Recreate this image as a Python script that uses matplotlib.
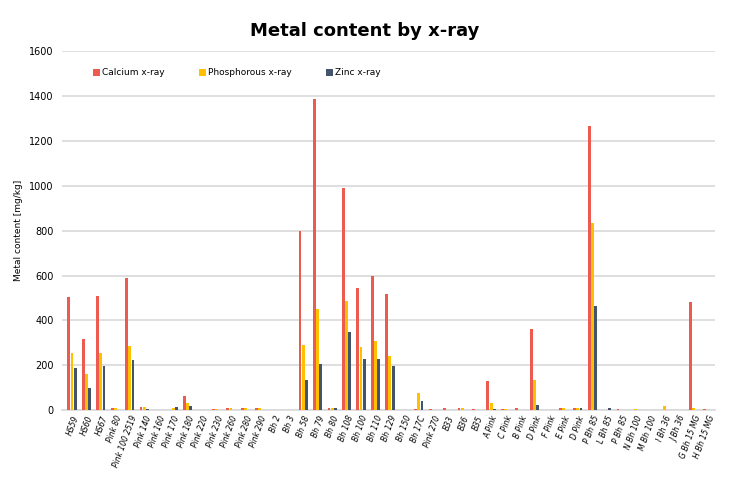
import numpy as np
import matplotlib.pyplot as plt

# sample names and x-ray results [mg/kg]
samples = ["HS59", "HS60", "HS67", "Pink 80", "Pink 100 2519", "Pink 140", "Pink 160",
           "Pink 170", "Pink 180", "Pink 220", "Pink 230", "Pink 260", "Pink 280", "Pink 290",
           "Bh 2", "Bh 3", "Bh 58", "Bh 79", "Bh 80", "Bh 108", "Bh 100", "Bh 110", "Bh 129",
           "Bh 150", "Bh 17C", "Pink 270", "B33", "B36", "B35", "A Pink", "C Pink", "B Pink",
           "D Pink", "F Pink", "E Pink", "D Pink", "P Bh 85", "L Bh 85", "P Bh 85", "N Bh 100",
           "M Bh 100", "I Bh 36", "J Bh 36", "G Bh 15 MG", "H Bh 15 MG"]

calcium = [505, 316, 509, 8, 590, 15, 0, 3, 64, 3, 5, 8, 8, 8,
           0, 0, 797, 1385, 10, 988, 545, 596, 516,
           0, 5, 5, 8, 10, 5, 130, 5, 8,
           362, 0, 10, 10, 1266, 0, 5, 0,
           0, 0, 0, 484, 5]
phosphorous = [255, 160, 255, 8, 287, 15, 0, 10, 33, 0, 5, 8, 8, 8,
               0, 0, 290, 449, 10, 488, 282, 308, 243,
               0, 76, 0, 0, 8, 0, 30, 5, 0,
               136, 0, 10, 10, 834, 0, 0, 5,
               0, 20, 0, 10, 0]
zinc = [187, 101, 197, 0, 222, 5, 0, 15, 17, 0, 0, 0, 0, 0,
        0, 0, 135, 208, 10, 347, 227, 230, 198,
        0, 40, 0, 0, 0, 0, 5, 0, 0,
        24, 0, 0, 10, 466, 8, 0, 0,
        0, 0, 0, 0, 0]

series = [("Calcium x-ray", calcium, "#EC5A50"),
          ("Phosphorous x-ray", phosphorous, "#FFC000"),
          ("Zinc x-ray", zinc, "#44546A")]

fig = plt.figure(figsize=(7.29, 4.82), dpi=100)
ax = fig.add_axes([0.085, 0.149, 0.896, 0.745])

x = np.arange(len(samples))
w = 0.22
for i, (name, vals, col) in enumerate(series):
    ax.bar(x + (i - 1) * w, vals, width=w * 0.9, color=col, label=name, zorder=3)

ax.set_xlim(-0.69, len(samples) - 0.5)
ax.set_ylim(0, 1600)
ax.set_yticks(range(0, 1601, 200))
ax.yaxis.grid(True, color="#d9d9d9", linewidth=1.2, zorder=0)
ax.tick_params(axis="y", length=0, labelsize=7, pad=6)
ax.tick_params(axis="x", length=0, labelsize=5.5, pad=3)
ax.set_xticks(x)
ax.set_xticklabels(samples, rotation=70, ha="right", rotation_mode="anchor", style="italic")
for s in ["top", "right", "left"]:
    ax.spines[s].set_visible(False)
ax.spines["bottom"].set_color("#d9d9d9")
ax.spines["bottom"].set_linewidth(1.2)

ax.set_ylabel("Metal content [mg/kg]", fontsize=6.5)
fig.suptitle("Metal content by x-ray", fontsize=13, fontweight="bold", y=0.955)

ax.legend(loc="upper left", bbox_to_anchor=(0.035, 0.975), ncol=3, frameon=False,
          fontsize=6.5, handlelength=0.8, handleheight=0.8, handletextpad=0.2,
          columnspacing=3.8)

fig.savefig("out.png", dpi=100)
